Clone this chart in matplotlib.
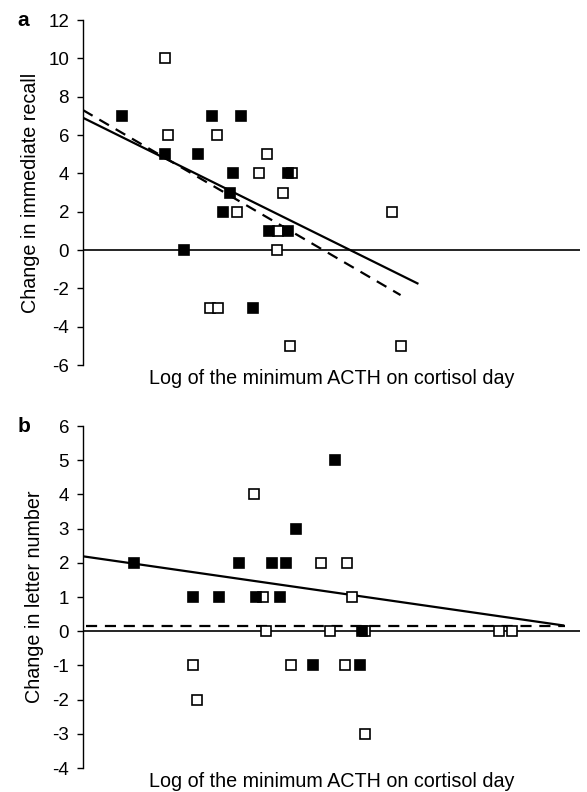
import matplotlib
matplotlib.use("Agg")
import matplotlib.pyplot as plt

plt.rcParams['font.family'] = ['Liberation Sans', 'DejaVu Sans']

# ---------------- Panel a data ----------------
a_filled_x = [0.78, 2.60, 3.17, 1.65, 2.32, 3.01, 4.12, 2.96, 2.82, 3.75, 4.13, 2.03, 3.43]
a_filled_y = [7, 7, 7, 5, 5, 4, 4, 3, 2, 1, 1, 0, -3]
a_open_x = [1.65, 1.71, 2.69, 3.70, 3.54, 4.21, 4.03, 3.10, 6.21, 3.93, 3.91, 2.56, 2.72, 4.16, 6.39]
a_open_y = [10, 6, 6, 5, 4, 4, 3, 2, 2, 1, 0, -3, -3, -5, -5]
a_solid_x = [0.0, 6.73]
a_solid_y = [6.9, -1.74]
a_dash_x = [0.0, 6.39]
a_dash_y = [7.3, -2.35]
a_yticks = [-6, -4, -2, 0, 2, 4, 6, 8, 10, 12]

# ---------------- Panel b data ----------------
b_filled_x = [5.07, 4.29, 1.03, 3.13, 3.80, 4.08, 2.22, 2.73, 3.49, 3.96, 5.61, 4.62, 5.57]
b_filled_y = [5, 3, 2, 2, 2, 2, 1, 1, 1, 1, 0, -1, -1]
b_open_x = [3.44, 4.78, 5.31, 3.63, 5.42, 3.68, 4.97, 5.67, 8.37, 8.63, 2.22, 4.18, 5.27, 2.29, 5.67]
b_open_y = [4, 2, 2, 1, 1, 0, 0, 0, 0, 0, -1, -1, -1, -2, -3]
b_solid_x = [0.0, 9.66]
b_solid_y = [2.19, 0.17]
b_dash_x = [0.07, 9.70]
b_dash_y = [0.15, 0.15]
b_yticks = [-4, -3, -2, -1, 0, 1, 2, 3, 4, 5, 6]

xlabel = "Log of the minimum ACTH on cortisol day"

fig = plt.figure(figsize=(5.87, 7.92), dpi=100)
ax_a = fig.add_axes([0.1414, 0.5391, 0.8466, 0.4356])
ax_b = fig.add_axes([0.1414, 0.0303, 0.8466, 0.4318])


def style(ax, ylim, yticks, ylabel, letter):
    ax.set_xlim(0, 10)
    ax.set_ylim(*ylim)
    ax.set_yticks(yticks)
    ax.set_yticklabels([str(t) for t in yticks])
    ax.set_xticks([])
    for s in ['top', 'right', 'bottom']:
        ax.spines[s].set_visible(False)
    ax.spines['left'].set_linewidth(1.0)
    ax.tick_params(axis='y', direction='out', length=4, width=1.0, pad=6, labelsize=13.5)
    ax.axhline(0, color='black', lw=1.2, zorder=1)
    ax.set_ylabel(ylabel, fontsize=14.2, labelpad=6)
    ax.set_xlabel(xlabel, fontsize=14.2, labelpad=3)
    ax.patch.set_alpha(0)
    ax.text(-0.132, 1.0, letter, transform=ax.transAxes, fontsize=15,
            fontweight='bold', ha='left', va='center')


def draw(ax, fx, fy, ox, oy, sx, sy, dx, dy):
    ax.plot(sx, sy, color='black', lw=1.6, zorder=2)
    ax.plot(dx, dy, color='black', lw=1.6, ls=(0, (5, 3.5)), zorder=2)
    ax.plot(ox, oy, ls='none', marker='s', ms=7.5, mfc='white', mec='black', mew=1.2, zorder=3)
    ax.plot(fx, fy, ls='none', marker='s', ms=7.5, mfc='black', mec='black', mew=1.2, zorder=4)


draw(ax_a, a_filled_x, a_filled_y, a_open_x, a_open_y, a_solid_x, a_solid_y, a_dash_x, a_dash_y)
style(ax_a, (-6, 12), a_yticks, "Change in immediate recall", "a")

draw(ax_b, b_filled_x, b_filled_y, b_open_x, b_open_y, b_solid_x, b_solid_y, b_dash_x, b_dash_y)
style(ax_b, (-4, 6), b_yticks, "Change in letter number", "b")

fig.savefig("out.png", dpi=100)
